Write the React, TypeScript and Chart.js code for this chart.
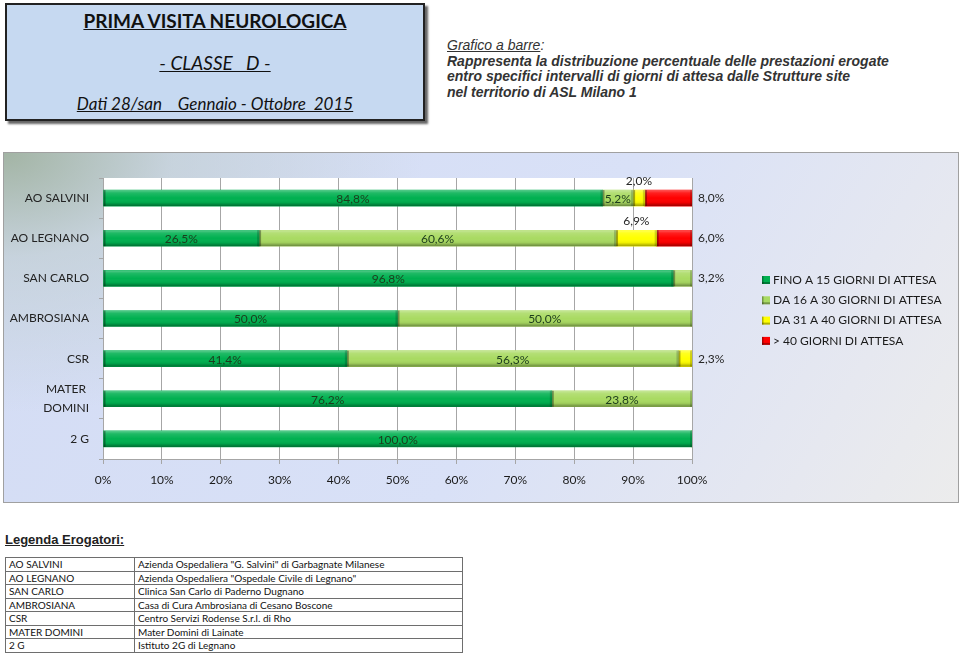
import React, { useEffect, useRef } from "react";
import { Chart, registerables } from "chart.js";

Chart.register(...registerables);

// ---------- DATA ----------
const categories: (string | string[])[] = [
  "AO SALVINI",
  "AO LEGNANO",
  "SAN CARLO",
  "AMBROSIANA",
  "CSR",
  ["MATER ", "DOMINI"],
  "2 G",
];
const seriesNames = [
  "FINO A 15 GIORNI DI ATTESA",
  "DA 16 A 30 GIORNI DI ATTESA",
  "DA 31 A 40 GIORNI DI ATTESA",
  "> 40 GIORNI DI ATTESA",
];
const fino15 = [84.8, 26.5, 96.8, 50.0, 41.4, 76.2, 100.0];
const da16a30 = [5.2, 60.6, 3.2, 50.0, 56.3, 23.8, 0];
const da31a40 = [2.0, 6.9, 0, 0, 2.3, 0, 0];
const oltre40 = [8.0, 6.0, 0, 0, 0, 0, 0];
const xTickValues = [0, 10, 20, 30, 40, 50, 60, 70, 80, 90, 100];

const providerCodes = ["AO SALVINI", "AO LEGNANO", "SAN CARLO", "AMBROSIANA", "CSR", "MATER DOMINI", "2 G"];
const providerNames = [
  'Azienda Ospedaliera "G. Salvini" di Garbagnate Milanese',
  'Azienda Ospedaliera "Ospedale Civile di Legnano"',
  "Clinica San Carlo di Paderno Dugnano",
  "Casa di Cura Ambrosiana di Cesano Boscone",
  "Centro Servizi Rodense S.r.l. di Rho",
  "Mater  Domini di Lainate",
  "Istituto 2G di Legnano",
];

const seriesColors = ["#00b050", "#a9da62", "#ffff00", "#ff0000"];

const CAL = "Lato, 'Open Sans', sans-serif";
const ARIAL = "'Liberation Sans', Arial, sans-serif";

const fmt = (v: number) => v.toFixed(1).replace(".", ",") + "%";

// ---------- PLUGINS ----------
const plotBgPlugin = {
  id: "plotBg",
  beforeDraw(chart: any) {
    const { ctx, chartArea } = chart;
    ctx.save();
    ctx.fillStyle = "#ffffff";
    ctx.fillRect(chartArea.left, chartArea.top, chartArea.right - chartArea.left, chartArea.bottom - chartArea.top);
    ctx.restore();
  },
};

const bevelPlugin = {
  id: "bevel",
  afterDatasetsDraw(chart: any) {
    const ctx = chart.ctx;
    chart.data.datasets.forEach((ds: any, i: number) => {
      const meta = chart.getDatasetMeta(i);
      meta.data.forEach((el: any, j: number) => {
        const v = ds.data[j];
        if (!v) return;
        const { x, y, base, height } = el.getProps(["x", "y", "base", "height"], true);
        const left = Math.min(x, base);
        const right = Math.max(x, base);
        const top = y - height / 2;
        const h = height;
        ctx.save();
        const g = ctx.createLinearGradient(0, top, 0, top + h);
        g.addColorStop(0, "rgba(255,255,255,0.35)");
        g.addColorStop(0.18, "rgba(255,255,255,0.12)");
        g.addColorStop(0.5, "rgba(255,255,255,0)");
        g.addColorStop(0.78, "rgba(0,0,0,0.06)");
        g.addColorStop(1, "rgba(0,0,0,0.38)");
        ctx.fillStyle = g;
        ctx.fillRect(left, top, right - left, h);
        const w = Math.min(2, right - left);
        ctx.fillStyle = "rgba(0,0,0,0.35)";
        ctx.fillRect(left, top, w, h);
        ctx.fillStyle = "rgba(0,0,0,0.18)";
        ctx.fillRect(right - w, top, w, h);
        ctx.restore();
      });
    });
  },
};

const labelPlugin = {
  id: "barLabels",
  afterDatasetsDraw(chart: any) {
    const ctx = chart.ctx;
    const dsets = chart.data.datasets;
    ctx.save();
    ctx.font = `12px ${CAL}`;
    ctx.textBaseline = "middle";
    dsets.forEach((ds: any, i: number) => {
      const meta = chart.getDatasetMeta(i);
      meta.data.forEach((el: any, j: number) => {
        const v = ds.data[j];
        if (!v) return;
        let last = 0;
        dsets.forEach((d: any, k: number) => {
          if (d.data[j]) last = k;
        });
        const { x, y, base, height } = el.getProps(["x", "y", "base", "height"], true);
        const txt = fmt(v);
        if (i === 3 || (i === last && v < 10)) {
          ctx.fillStyle = "#262626";
          ctx.textAlign = "left";
          ctx.fillText(txt, Math.max(x, base) + 6, y);
        } else if (i === 2) {
          ctx.fillStyle = "#262626";
          ctx.textAlign = "center";
          ctx.fillText(txt, (x + base) / 2, y - height / 2 - 9);
        } else {
          ctx.fillStyle = "#1c3b1c";
          ctx.textAlign = "center";
          ctx.fillText(txt, (x + base) / 2, y + 1);
        }
      });
    });
    ctx.restore();
  },
};

const legendPlugin = {
  id: "sideLegend",
  afterDraw(chart: any) {
    const ctx = chart.ctx;
    const lx = chart.chartArea.right + 70;
    const ly = chart.chartArea.top + 102;
    ctx.save();
    ctx.font = `12px ${CAL}`;
    ctx.textBaseline = "middle";
    ctx.textAlign = "left";
    chart.data.datasets.forEach((ds: any, i: number) => {
      const yy = ly + i * 20.3;
      ctx.fillStyle = ds.backgroundColor;
      ctx.fillRect(lx, yy - 4, 8, 8);
      ctx.fillStyle = "rgba(0,0,0,0.3)";
      ctx.fillRect(lx, yy + 2, 8, 2);
      ctx.fillRect(lx, yy - 4, 1.5, 8);
      ctx.fillStyle = "#1a1a1a";
      ctx.fillText(ds.label, lx + 11, yy);
    });
    ctx.restore();
  },
};

// ---------- COMPONENTS ----------
function BarChart() {
  const ref = useRef<HTMLCanvasElement | null>(null);
  useEffect(() => {
    if (!ref.current) return;
    const series = [fino15, da16a30, da31a40, oltre40];
    const chart = new Chart(ref.current, {
      type: "bar",
      data: {
        labels: categories as any,
        datasets: series.map((d, i) => ({
          label: seriesNames[i],
          data: d,
          backgroundColor: seriesColors[i],
          borderWidth: 0,
          barThickness: 16,
        })),
      },
      options: {
        indexAxis: "y",
        responsive: false,
        animation: false,
        layout: { padding: { left: 0, right: 267, top: 26, bottom: 0 } },
        plugins: {
          legend: { display: false },
          tooltip: { enabled: false },
        },
        scales: {
          x: {
            stacked: true,
            min: 0,
            max: 100,
            afterBuildTicks: (s: any) => {
              s.ticks = xTickValues.map((v) => ({ value: v }));
            },
            afterFit: (s: any) => {
              s.height = 44;
            },
            grid: { color: "#a6a6a6", lineWidth: 1, tickLength: 5, drawTicks: true },
            border: { color: "#a6a6a6" },
            ticks: {
              color: "#1a1a1a",
              font: { family: CAL, size: 12 },
              padding: 9,
              maxRotation: 0,
              autoSkip: false,
              callback: (v: any) => v + "%",
            },
          },
          y: {
            stacked: true,
            afterFit: (s: any) => {
              s.width = 100;
            },
            grid: { drawOnChartArea: false, color: "#a6a6a6", tickLength: 4, offset: true },
            border: { color: "#a6a6a6" },
            ticks: {
              color: "#222",
              font: { family: CAL, size: 12, lineHeight: 1.55 },
              padding: 10,
              autoSkip: false,
            },
          },
        },
      },
      plugins: [plotBgPlugin, bevelPlugin, labelPlugin, legendPlugin],
    } as any);
    return () => chart.destroy();
  }, []);
  return <canvas ref={ref} width={956} height={351} style={{ display: "block" }} />;
}

export default function App() {
  const abs = (o: React.CSSProperties): React.CSSProperties => ({ position: "absolute", ...o });
  return (
    <div style={abs({ left: 0, top: 0, width: 960, height: 653, background: "#ffffff", overflow: "hidden" })}>
      {/* header box */}
      <div
        style={abs({
          left: 5,
          top: 3,
          width: 416,
          height: 114,
          background: "#c6d9f1",
          border: "2px solid #222",
          boxShadow: "3px 3px 2px #666",
        })}
      >
        <div
          style={abs({
            left: 0,
            width: 416,
            top: 5,
            textAlign: "center",
            fontFamily: CAL,
            fontWeight: 700,
            fontSize: 19,
            textDecoration: "underline",
            color: "#111",
            lineHeight: "22px",
          })}
        >
          PRIMA VISITA NEUROLOGICA
        </div>
        <div
          style={abs({
            left: 0,
            width: 416,
            top: 47,
            textAlign: "center",
            fontFamily: CAL,
            fontStyle: "italic",
            fontSize: 19,
            textDecoration: "underline",
            color: "#111",
            whiteSpace: "pre",
            lineHeight: "22px",
          })}
        >
          {"- CLASSE   D -"}
        </div>
        <div
          style={abs({
            left: 0,
            width: 416,
            top: 88,
            textAlign: "center",
            fontFamily: CAL,
            fontStyle: "italic",
            fontSize: 17,
            textDecoration: "underline",
            color: "#111",
            whiteSpace: "pre",
            lineHeight: "22px",
          })}
        >
          {"Dati 28/san    Gennaio - Ottobre  2015"}
        </div>
      </div>

      {/* description */}
      <div
        style={abs({
          left: 447,
          top: 38,
          fontFamily: ARIAL,
          fontSize: 14,
          lineHeight: "15.5px",
          color: "#333",
          fontStyle: "italic",
        })}
      >
        <div>
          <span style={{ textDecoration: "underline" }}>Grafico a barre</span>:
        </div>
        <div style={{ fontWeight: 700 }}>Rappresenta la distribuzione percentuale delle prestazioni erogate</div>
        <div style={{ fontWeight: 700 }}>entro specifici intervalli di giorni di attesa dalle Strutture site</div>
        <div style={{ fontWeight: 700 }}>nel territorio di ASL Milano 1</div>
      </div>

      {/* chart panel */}
      <div
        style={abs({
          left: 3,
          top: 152,
          width: 954,
          height: 349,
          border: "1px solid #a0a0a0",
          background:
            "radial-gradient(ellipse 420px 260px at 0% 0%, rgba(160,178,160,0.95) 0%, rgba(190,204,205,0.6) 40%, rgba(214,222,246,0) 100%), linear-gradient(120deg, #d3dcf4 0%, #d9e1f7 55%, #e6e8f0 85%, #ececec 100%)",
        })}
      />
      <div style={abs({ left: 3, top: 152 })}>
        <BarChart />
      </div>

      {/* legenda erogatori */}
      <div
        style={abs({
          left: 5,
          top: 532,
          fontFamily: ARIAL,
          fontWeight: 700,
          fontSize: 13,
          textDecoration: "underline",
          color: "#222",
          lineHeight: "16px",
        })}
      >
        Legenda Erogatori:
      </div>
      <table
        style={abs({
          left: 5,
          top: 557,
          width: 458,
          borderCollapse: "collapse",
          fontFamily: CAL,
          fontSize: 10,
          color: "#111",
        })}
      >
        <tbody>
          {providerCodes.map((c, i) => (
            <tr key={c} style={{ height: 13.5 }}>
              <td style={{ border: "1px solid #6e6e6e", width: 122, padding: "0 3px", lineHeight: "12px" }}>{c}</td>
              <td style={{ border: "1px solid #6e6e6e", padding: "0 3px", lineHeight: "12px" }}>{providerNames[i]}</td>
            </tr>
          ))}
        </tbody>
      </table>
    </div>
  );
}
